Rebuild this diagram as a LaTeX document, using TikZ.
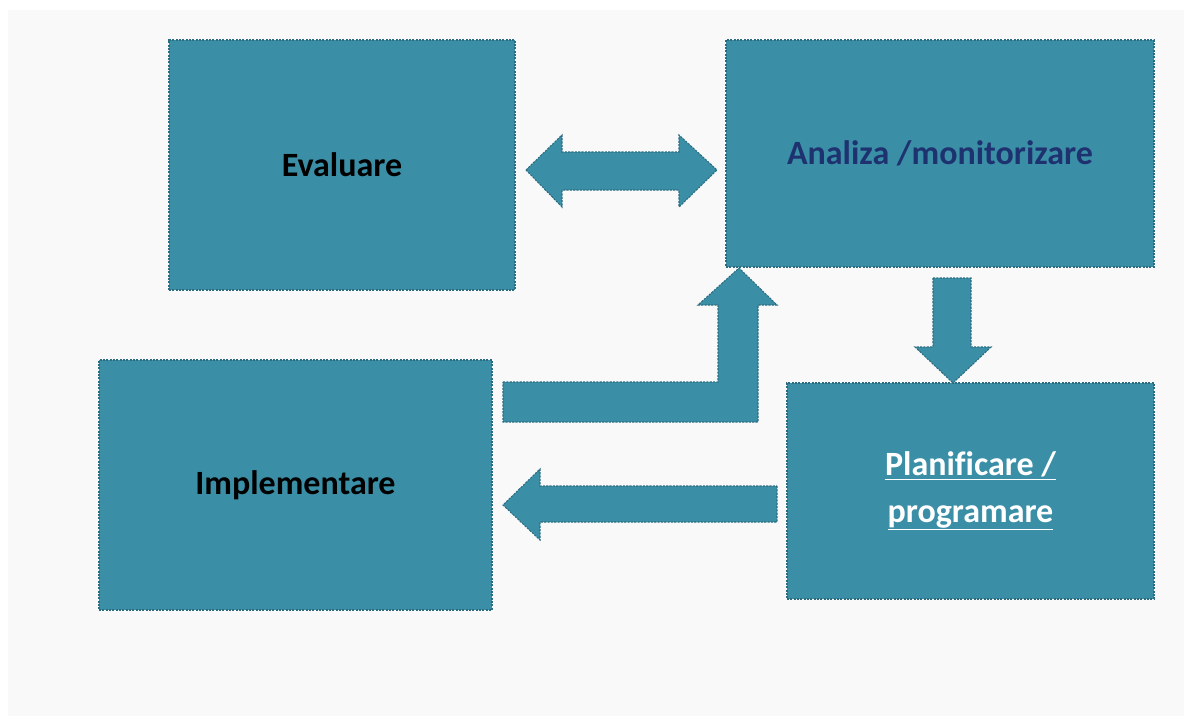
\documentclass[tikz,border=0pt]{standalone}
\usepackage{fontspec}
\setmainfont{Carlito}[Ligatures=NoCommon]
\definecolor{tealc}{HTML}{3A8FA6}
\definecolor{edgec}{HTML}{2B6C80}
\definecolor{bgc}{HTML}{F9F9F9}
\definecolor{navyc}{HTML}{1E3270}
\tikzset{
  box/.style={draw=edgec, fill=tealc, line width=0.8pt, dash pattern=on 1.6pt off 0.9pt, inner sep=0pt, align=center,
    font=\fontsize{25.5}{35}\selectfont\bfseries},
  blockarrow/.style={draw=edgec, fill=tealc, line width=0.8pt, dash pattern=on 1.6pt off 0.9pt, line join=miter}
}
\begin{document}
\begin{tikzpicture}[x=0.75pt,y=-0.75pt]
\useasboundingbox (0,0) rectangle (1184,718);
\fill[white] (0,0) rectangle (1184,718);
\fill[bgc] (8,10) rectangle (1184,716);

\node[box, minimum width=259.5pt, minimum height=187.5pt, text=black] (eval) at (342,165) {Evaluare};
\node[box, minimum width=321pt, minimum height=170.25pt, text=navyc] (anal) at (940,153.5) {Analiza /monitorizare};
\node[box, minimum width=294.75pt, minimum height=187.5pt, text=black] (impl) at (295.5,485) {\raisebox{-2.5pt}{Implementare}};
\node[box, minimum width=275.25pt, minimum height=162pt, text=white] (plan) at (970.5,491) {\raisebox{-3.5pt}{\underline{Planificare /}}\\\raisebox{-3.5pt}{\underline{programare}}};

% double arrow Evaluare <-> Analiza
\draw[blockarrow] (526,170) -- (562,135) -- (562,152) -- (679,152) -- (679,135) -- (717,170)
  -- (679,207) -- (679,190) -- (562,190) -- (562,207) -- cycle;
% down arrow Analiza -> Planificare
\draw[blockarrow] (933,278) -- (971,278) -- (971,347) -- (991,347) -- (953,383) -- (915,347) -- (933,347) -- cycle;
% bent arrow Implementare -> Analiza
\draw[blockarrow] (503,382) -- (718,382) -- (718,305) -- (698,305) -- (739,268) -- (777,305) -- (758,305)
  -- (758,422) -- (503,422) -- cycle;
% left arrow Planificare -> Implementare
\draw[blockarrow] (777,486) -- (777,522) -- (540,522) -- (540,540) -- (503,505) -- (540,469) -- (540,486) -- cycle;
\end{tikzpicture}
\end{document}
